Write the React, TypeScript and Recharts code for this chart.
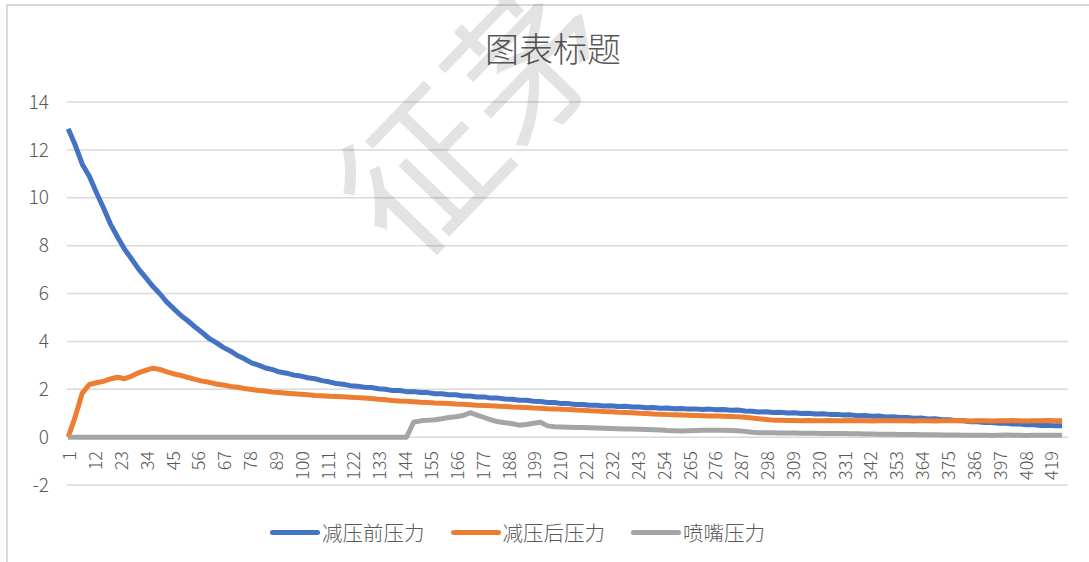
import React from 'react';
import { LineChart, Line, XAxis, YAxis, CartesianGrid } from 'recharts';

// Readings are logged every 3rd sample, starting from sample 1.
const FIRST_READING = 1;
const READING_STEP = 3;

// 减压前压力 (pressure before the reducing valve)
const beforeValve = [
  12.88, 12.2, 11.4, 10.9, 10.22, 9.58, 8.9, 8.36, 7.85, 7.44,
  7.02, 6.66, 6.3, 5.99, 5.64, 5.36, 5.08, 4.85, 4.6, 4.37,
  4.12, 3.95, 3.75, 3.6, 3.41, 3.27, 3.1, 3.01, 2.89, 2.82,
  2.72, 2.67, 2.59, 2.55, 2.48, 2.44, 2.36, 2.31, 2.24, 2.21,
  2.15, 2.13, 2.08, 2.07, 2.02, 2.0, 1.95, 1.95, 1.9, 1.9,
  1.86, 1.86, 1.81, 1.81, 1.77, 1.77, 1.72, 1.72, 1.68, 1.68,
  1.63, 1.63, 1.59, 1.58, 1.54, 1.54, 1.5, 1.49, 1.45, 1.45,
  1.4, 1.4, 1.36, 1.36, 1.33, 1.33, 1.3, 1.31, 1.28, 1.29,
  1.26, 1.26, 1.23, 1.24, 1.21, 1.22, 1.19, 1.2, 1.17, 1.18,
  1.15, 1.17, 1.14, 1.15, 1.12, 1.13, 1.09, 1.08, 1.05, 1.06,
  1.03, 1.04, 1.01, 1.02, 0.99, 1.0, 0.97, 0.98, 0.95, 0.95,
  0.92, 0.93, 0.89, 0.9, 0.87, 0.88, 0.84, 0.85, 0.82, 0.82,
  0.79, 0.8, 0.76, 0.77, 0.73, 0.73, 0.69, 0.68, 0.64, 0.64,
  0.61, 0.61, 0.58, 0.58, 0.55, 0.55, 0.52, 0.52, 0.49, 0.5,
  0.47, 0.47,
];

// 减压后压力 (pressure after the reducing valve)
const afterValve = [
  0, 0.85, 1.84, 2.2, 2.27, 2.33, 2.43, 2.5, 2.44, 2.55,
  2.69, 2.79, 2.88, 2.83, 2.73, 2.64, 2.58, 2.49, 2.41, 2.34,
  2.29, 2.22, 2.18, 2.12, 2.08, 2.03, 1.99, 1.95, 1.93, 1.88,
  1.86, 1.83, 1.81, 1.79, 1.77, 1.74, 1.73, 1.71, 1.7, 1.69,
  1.67, 1.65, 1.63, 1.61, 1.58, 1.56, 1.53, 1.51, 1.5, 1.48,
  1.46, 1.45, 1.43, 1.42, 1.4, 1.38, 1.37, 1.35, 1.33, 1.32,
  1.31, 1.29, 1.28, 1.26, 1.25, 1.24, 1.22, 1.21, 1.19, 1.18,
  1.16, 1.15, 1.13, 1.12, 1.1, 1.09, 1.07, 1.06, 1.04, 1.03,
  1.02, 1.0, 0.99, 0.97, 0.96, 0.94, 0.93, 0.92, 0.91, 0.9,
  0.89, 0.88, 0.88, 0.87, 0.86, 0.85, 0.83, 0.8, 0.77, 0.74,
  0.71, 0.7, 0.69, 0.69, 0.68, 0.69, 0.68, 0.68, 0.69, 0.68,
  0.68, 0.69, 0.68, 0.68, 0.67, 0.68, 0.68, 0.69, 0.68, 0.68,
  0.67, 0.68, 0.68, 0.67, 0.68, 0.68, 0.69, 0.68, 0.67, 0.68,
  0.68, 0.67, 0.68, 0.68, 0.69, 0.68, 0.67, 0.68, 0.68, 0.69,
  0.68, 0.68,
];

// 喷嘴压力 (nozzle pressure)
const nozzle = [
  0, 0, 0, 0, 0, 0, 0, 0, 0, 0,
  0, 0, 0, 0, 0, 0, 0, 0, 0, 0,
  0, 0, 0, 0, 0, 0, 0, 0, 0, 0,
  0, 0, 0, 0, 0, 0, 0, 0, 0, 0,
  0, 0, 0, 0, 0, 0, 0, 0, 0, 0.62,
  0.68, 0.7, 0.73, 0.77, 0.82, 0.85, 0.9, 1.02, 0.92, 0.82,
  0.72, 0.64, 0.6, 0.56, 0.5, 0.53, 0.58, 0.62, 0.47, 0.43,
  0.42, 0.41, 0.4, 0.4, 0.39, 0.38, 0.37, 0.36, 0.35, 0.34,
  0.34, 0.33, 0.32, 0.31, 0.3, 0.28, 0.27, 0.26, 0.27, 0.28,
  0.29, 0.29, 0.29, 0.29, 0.28, 0.27, 0.24, 0.2, 0.18, 0.18,
  0.18, 0.17, 0.17, 0.17, 0.16, 0.16, 0.16, 0.15, 0.15, 0.15,
  0.15, 0.14, 0.14, 0.13, 0.13, 0.12, 0.12, 0.12, 0.11, 0.11,
  0.11, 0.1, 0.1, 0.1, 0.09, 0.09, 0.09, 0.08, 0.08, 0.08,
  0.08, 0.07, 0.08, 0.09, 0.08, 0.08, 0.07, 0.08, 0.08, 0.08,
  0.08, 0.08,
];

const xTicks = [
  1, 12, 23, 34, 45, 56, 67, 78, 89, 100, 111, 122, 133, 144, 155, 166, 177, 188, 199, 210,
  221, 232, 243, 254, 265, 276, 287, 298, 309, 320, 331, 342, 353, 364, 375, 386, 397, 408, 419,
];
const yTicks = [-2, 0, 2, 4, 6, 8, 10, 12, 14];

const TITLE = '图表标题';
const WATERMARK = '征茅';

const SERIES = [
  { key: 'before', name: '减压前压力', color: '#4472C4' },
  { key: 'after', name: '减压后压力', color: '#ED7D31' },
  { key: 'nozzle', name: '喷嘴压力', color: '#A5A5A5' },
];

const data = beforeValve.map((v, k) => ({
  reading: FIRST_READING + READING_STEP * k,
  before: v,
  after: afterValve[k],
  nozzle: nozzle[k],
}));

const FONT = '"Noto Sans CJK SC", "Noto Sans", sans-serif';
const TEXT_COLOR = '#595959';

// Category labels sit along the zero line, rotated to read bottom-to-top.
const XTick = (props: any) => {
  const { x, y, payload } = props;
  return (
    <text
      transform={`translate(${x},${y - 34}) rotate(-90)`}
      textAnchor="end"
      dominantBaseline="central"
      fontSize={18}
      fontWeight={300}
      fill={TEXT_COLOR}
      fontFamily={FONT}
    >
      {payload.value}
    </text>
  );
};

export default function App() {
  return (
    <div
      style={{
        position: 'absolute',
        left: 0,
        top: 0,
        width: 1089,
        height: 562,
        overflow: 'hidden',
        background: '#fff',
        fontFamily: FONT,
      }}
    >
      <div
        style={{
          position: 'absolute',
          left: 6,
          top: 4,
          width: 1200,
          height: 700,
          border: '2px solid #dadada',
          boxSizing: 'border-box',
        }}
      />
      <LineChart
        width={1089}
        height={562}
        data={data}
        margin={{ top: 102, right: 21, bottom: 47, left: 0 }}
        style={{ position: 'absolute', left: 0, top: 0 }}
      >
        <CartesianGrid vertical={false} stroke="#d9d9d9" strokeWidth={1.5} />
        <XAxis
          type="number"
          dataKey="reading"
          domain={[0.5, 426.5]}
          ticks={xTicks}
          interval={0}
          axisLine={false}
          tickLine={false}
          tickSize={0}
          tickMargin={0}
          height={30}
          tick={<XTick />}
        />
        <YAxis
          domain={[-2, 14]}
          ticks={yTicks}
          interval={0}
          width={67}
          axisLine={false}
          tickLine={false}
          tickMargin={12}
          tick={{ fontSize: 19, fill: TEXT_COLOR, fontFamily: FONT, fontWeight: 300 }}
        />
        {SERIES.map((s) => (
          <Line
            key={s.key}
            type="linear"
            dataKey={s.key}
            name={s.name}
            stroke={s.color}
            strokeWidth={5}
            strokeLinejoin="round"
            dot={false}
            activeDot={false}
            isAnimationActive={false}
          />
        ))}
      </LineChart>
      <svg
        width={1089}
        height={562}
        style={{ position: 'absolute', left: 0, top: 0, pointerEvents: 'none' }}
      >
        <text
          x={553}
          y={47}
          textAnchor="middle"
          dominantBaseline="central"
          fontSize={34}
          fontWeight={300}
          fill={TEXT_COLOR}
          fontFamily={FONT}
        >
          {TITLE}
        </text>
        <text
          x={468}
          y={108}
          textAnchor="middle"
          dominantBaseline="central"
          fontSize={155}
          fontWeight={400}
          fill="#000"
          fillOpacity={0.11}
          fontFamily={FONT}
          transform="rotate(-46 468 108)"
        >
          {WATERMARK}
        </text>
      </svg>
      <div
        style={{
          position: 'absolute',
          left: 270,
          top: 519,
          height: 26,
          display: 'flex',
          alignItems: 'center',
          gap: 26,
        }}
      >
        {SERIES.map((s) => (
          <div key={s.key} style={{ display: 'flex', alignItems: 'center' }}>
            <div
              style={{
                width: 50,
                height: 5,
                borderRadius: 3,
                background: s.color,
                marginRight: 2,
              }}
            />
            <span
              style={{
                fontSize: 20.5,
                fontWeight: 300,
                color: TEXT_COLOR,
                lineHeight: '26px',
                whiteSpace: 'nowrap',
              }}
            >
              {s.name}
            </span>
          </div>
        ))}
      </div>
    </div>
  );
}
